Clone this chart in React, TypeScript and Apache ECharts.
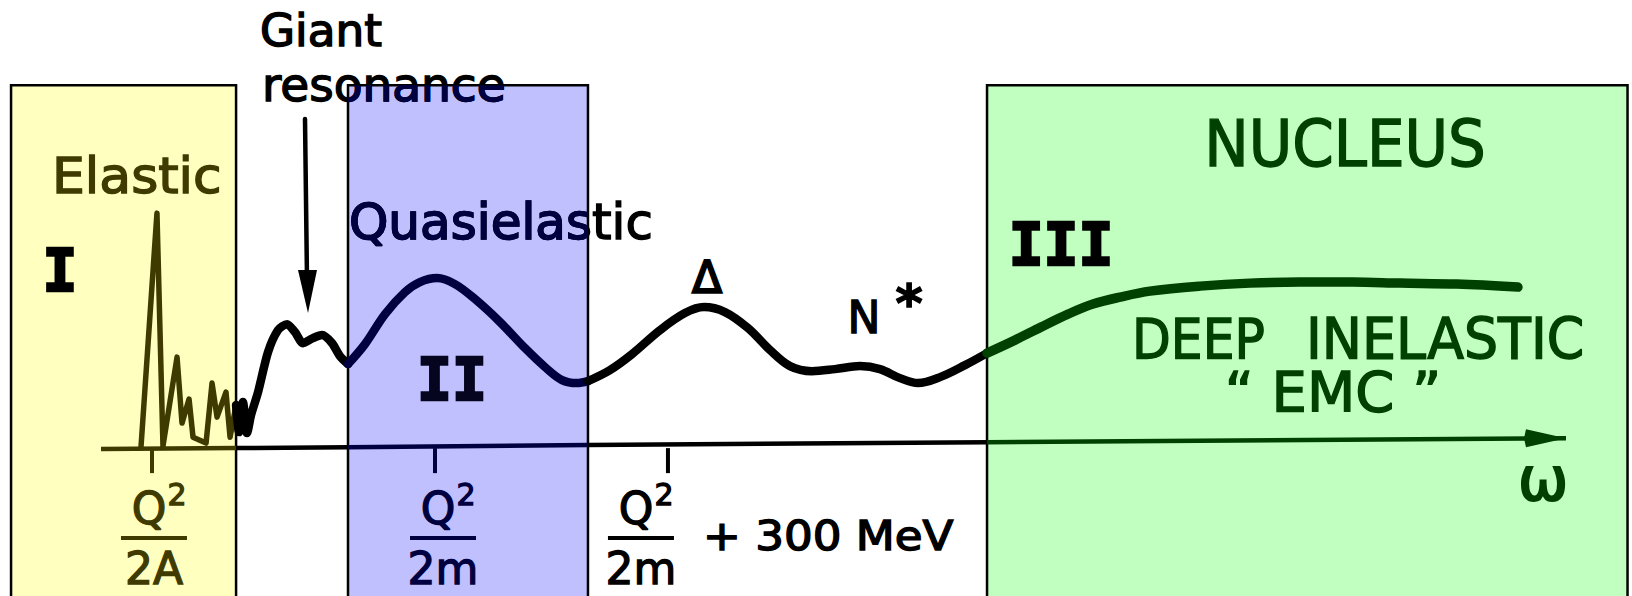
import { useEffect, useRef } from "react";
import * as echarts from "echarts";

const SANS = "'DejaVu Sans', sans-serif";
const MONO = "'DejaVu Sans Mono', monospace";

// Ink colours: plain black, and the darkened tint each shaded region gives it.
const INK = "#000000";
const INK_I = "#3f3b00";
const INK_II = "#000040";
const INK_III = "#004000";

// Kinematic regions along the energy transfer ω (arbitrary units, axis runs 0 → 100).
const regionFrom = [-6.14, 16.86, 60.48];
const regionTo = [9.22, 33.24, 104.2];
const regionTop = 81;
const regionBottom = -40;
const regionFill = ["#ffffc0", "#c0c0ff", "#c0ffc0"];

// Response function, cut where it crosses a region border.
const elasticPeaks = [
  [2.73, 0.22], [3.82, 52.44], [4.23, 0.45], [5.19, 20.31], [5.53, 5.58],
  [6.01, 10.94], [6.28, 2.45], [7.17, 1.12], [7.58, 14.51], [7.92, 6.92],
  [8.53, 12.5], [8.81, 2.45], [9.22, 9.6],
];
const giantResonance = [
  [9.22, 9.6], [9.42, 3.57], [9.69, 10.27], [9.97, 3.35], [10.24, 7.36],
  [10.72, 12.5], [11.4, 21.42], [12.08, 26.33], [12.7, 27.67], [13.24, 25.89],
  [13.79, 23.43], [14.47, 24.55], [15.09, 25.22], [15.77, 23.43], [16.31, 20.53],
  [16.86, 18.75],
];
const quasielasticPeak = [
  [16.86, 18.75], [18.02, 23.21], [19.39, 29.9], [20.75, 34.81], [21.77, 37.05],
  [22.94, 37.94], [24.16, 36.6], [25.53, 33.25], [27.24, 28.12], [28.94, 22.32],
  [30.31, 18.08], [31.47, 15.18], [32.49, 14.51], [33.24, 14.95],
];
const resonanceRegion = [
  [33.24, 14.95], [34.74, 17.41], [36.25, 20.98], [38.16, 26.33], [39.86, 30.13],
  [41.16, 31.47], [42.59, 30.35], [44.16, 26.78], [45.67, 21.87], [47.03, 18.3],
  [48.53, 17.18], [50.1, 17.63], [51.81, 18.3], [53.17, 17.63], [54.54, 15.62],
  [55.77, 14.51], [57.27, 15.84], [58.98, 18.52], [60.48, 21.2],
];
const deepInelastic = [
  [60.48, 21.2], [62.39, 24.1], [64.16, 27.0], [66.01, 29.9], [67.71, 32.14],
  [69.56, 33.7], [71.6, 35.04], [75.02, 36.15], [78.43, 36.82], [81.84, 37.05],
  [85.46, 37.05], [88.67, 36.82], [92.56, 36.6], [96.72, 35.93],
];

// The ω axis itself, drawn segment by segment through the regions.
const axisBreaks = [0, 9.22, 16.86, 33.24, 60.48, 100];
const axisLevels = [-0.2, 0, 0.2, 0.7, 1.3, 2.2];
const axisInk = [INK_I, INK, INK_II, INK, INK_III];

// Marked energies: Q²/2A, Q²/2m, Q²/2m + 300 MeV.
const tickValues = [3.48, 22.8, 38.7];
const tickDenominators = ["2A", "2m", "2m"];
const tickInk = [INK_I, INK_II, INK];
const tickLabelShift = [2, 8, -27];

type WordOpts = { align?: string; family?: string; weight?: string; scaleX?: number; heavy?: number };

function word(text: string, x: number, baseline: number, size: number, fill: string, opts: WordOpts = {}) {
  const { align = "left", family = SANS, weight = "normal", scaleX = 1, heavy = 1.4 } = opts;
  return {
    type: "text",
    x,
    y: baseline - 0.35 * size,
    scaleX,
    z: 10,
    style: {
      text,
      fill,
      stroke: fill,
      lineWidth: heavy,
      font: `${weight} ${size}px ${family}`,
      textAlign: align,
      align,
      textVerticalAlign: "middle",
      verticalAlign: "middle",
    },
  };
}

// Words that run across the border of region II.
const crossingWords = [
  { text: "resonance", x: 262, baseline: 101, size: 47 },
  { text: "Quasielastic", x: 349, baseline: 239, size: 50 },
];

function buildOption() {
  const curve = (name: string, data: number[][], color: string, width: number, smooth: number | boolean) => ({
    name,
    type: "line",
    data,
    symbol: "none",
    smooth,
    z: 3,
    lineStyle: { color, width, cap: "round", join: "round" },
  });

  const axisSegments = axisInk.map((_, i) => [axisBreaks[i], axisLevels[i], axisBreaks[i + 1], axisLevels[i + 1]]);

  return {
    animation: false,
    backgroundColor: "#ffffff",
    grid: { left: 101, right: 66, top: 0, bottom: 0 },
    xAxis: { type: "value", min: 0, max: 100, show: false },
    yAxis: { type: "value", min: -33, max: 100, show: false },
    series: [
      {
        name: "regions",
        type: "custom",
        z: 1,
        clip: false,
        data: regionFrom.map((f, i) => [f, regionTo[i], regionTop, regionBottom]),
        encode: { x: [0, 1], y: [2, 3] },
        renderItem: (params: any, api: any) => {
          const i = params.dataIndex;
          const p0 = api.coord([api.value(0), api.value(2)]);
          const p1 = api.coord([api.value(1), api.value(3)]);
          return {
            type: "rect",
            shape: { x: p0[0], y: p0[1], width: p1[0] - p0[0], height: p1[1] - p0[1] },
            style: { fill: regionFill[i], stroke: INK, lineWidth: 2.5 },
          };
        },
      },
      curve("elastic", elasticPeaks, INK_I, 5.5, false),
      curve("giant resonance", giantResonance, INK, 8.5, 0.25),
      curve("quasielastic", quasielasticPeak, INK_II, 8.5, 0.35),
      curve("resonances", resonanceRegion, INK, 8.5, 0.35),
      curve("deep inelastic", deepInelastic, INK_III, 9.5, 0.35),
      {
        name: "omega axis",
        type: "custom",
        z: 4,
        clip: false,
        data: axisSegments,
        encode: { x: [0, 2], y: [1, 3] },
        renderItem: (params: any, api: any) => {
          const i = params.dataIndex;
          const a = api.coord([api.value(0), api.value(1)]);
          const b = api.coord([api.value(2), api.value(3)]);
          const color = axisInk[i];
          const children: any[] = [
            { type: "line", shape: { x1: a[0], y1: a[1], x2: b[0], y2: b[1] }, style: { stroke: color, lineWidth: 4.5 } },
          ];
          if (i === axisInk.length - 1) {
            children.push({
              type: "polygon",
              shape: { points: [[b[0], b[1]], [b[0] - 40, b[1] - 9], [b[0] - 42, b[1]], [b[0] - 40, b[1] + 9]] },
              style: { fill: color },
            });
          }
          return { type: "group", children };
        },
      },
      {
        name: "ticks",
        type: "custom",
        z: 4,
        clip: false,
        data: tickValues.map((t) => [t, 0]),
        renderItem: (params: any, api: any) => {
          const i = params.dataIndex;
          const [x, y] = api.coord([api.value(0), api.value(1)]);
          const c = tickInk[i];
          const cx = x + tickLabelShift[i];
          const txt = (text: string, tx: number, baseline: number, size: number) => ({
            type: "text",
            x: tx,
            y: baseline - 0.35 * size,
            style: {
              text,
              fill: c,
              stroke: c,
              lineWidth: 1.3,
              font: `${size}px ${SANS}`,
              textAlign: "center",
              align: "center",
              textVerticalAlign: "middle",
              verticalAlign: "middle",
            },
          });
          return {
            type: "group",
            children: [
              { type: "line", shape: { x1: x, y1: y, x2: x, y2: y + 25 }, style: { stroke: c, lineWidth: 4 } },
              txt("Q", cx - 5, y + 76, 44),
              txt("2", cx + 23, y + 57, 30),
              { type: "rect", shape: { x: cx - 33, y: y + 88, width: 66, height: 4 }, style: { fill: c } },
              txt(tickDenominators[i], cx, y + 136, 44),
            ],
          };
        },
      },
      {
        name: "region II lettering",
        type: "custom",
        z: 20,
        clip: false,
        data: [[regionFrom[1], regionTo[1], regionTop, regionBottom]],
        encode: { x: [0, 1], y: [2, 3] },
        renderItem: (_params: any, api: any) => {
          const p0 = api.coord([api.value(0), api.value(2)]);
          const p1 = api.coord([api.value(1), api.value(3)]);
          return {
            type: "group",
            clipPath: { type: "rect", shape: { x: p0[0], y: p0[1], width: p1[0] - p0[0], height: p1[1] - p0[1] } },
            children: crossingWords.map((w) => word(w.text, w.x, w.baseline, w.size, INK_II)),
          };
        },
      },
    ],
    graphic: [
      word("Giant", 260, 47, 44, INK, { scaleX: 1.03 }),
      ...crossingWords.map((w) => word(w.text, w.x, w.baseline, w.size, INK)),
      { type: "line", z: 10, shape: { x1: 305, y1: 119, x2: 307, y2: 280 }, style: { stroke: INK, lineWidth: 4.5, lineCap: "round" } },
      { type: "polygon", z: 10, shape: { points: [[298, 270], [317, 270], [308, 313]] }, style: { fill: INK } },
      word("Elastic", 52, 193, 50, INK_I, { scaleX: 1.04 }),
      word("I", 60, 291, 58, INK, { align: "center", family: MONO, weight: "bold", heavy: 2.5 }),
      word("II", 452, 400, 58, "#05051f", { align: "center", family: MONO, weight: "bold", heavy: 2.5 }),
      word("III", 1061, 265, 58, INK, { align: "center", family: MONO, weight: "bold", heavy: 2.5 }),
      word("Δ", 707, 293, 44, INK, { align: "center", heavy: 2 }),
      word("N", 864, 333, 44, INK, { align: "center" }),
      word("*", 909, 321, 52, INK, { align: "center", weight: "bold" }),
      word("NUCLEUS", 1345, 167, 64, INK_III, { align: "center", scaleX: 0.93 }),
      word("DEEP", 1132, 359, 56, INK_III, { scaleX: 0.9 }),
      word("INELASTIC", 1306, 359, 56, INK_III, { scaleX: 0.96 }),
      word("“ EMC ”", 1333, 411, 56, INK_III, { align: "center" }),
      word("ω", 1543, 500, 60, INK_III, { align: "center", heavy: 2 }),
      word("+ 300 MeV", 703, 550, 40, INK, { scaleX: 1.13 }),
    ],
  };
}

export default function App() {
  const ref = useRef<HTMLDivElement>(null);
  useEffect(() => {
    if (!ref.current) return;
    const chart = echarts.init(ref.current, undefined, { renderer: "svg" });
    chart.setOption(buildOption() as any);
    return () => chart.dispose();
  }, []);
  return <div ref={ref} style={{ position: "absolute", left: 0, top: 0, width: 1632, height: 596 }} />;
}
